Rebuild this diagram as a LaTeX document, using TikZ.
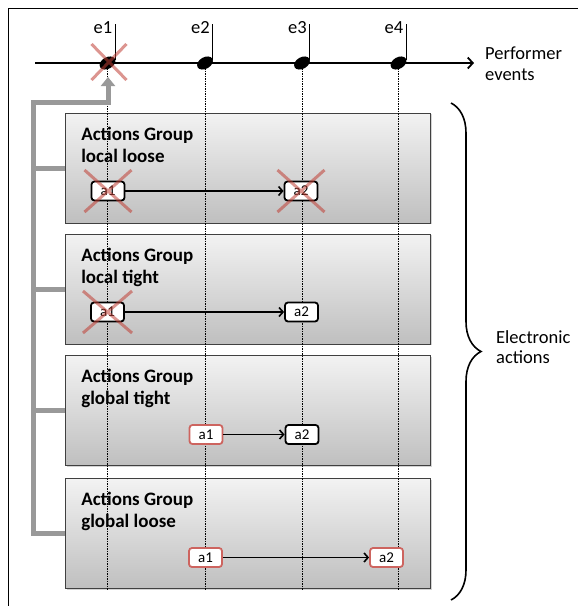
\documentclass[tikz,border=0pt]{standalone}
\usepackage{fontspec}
\setmainfont{Carlito}
\usetikzlibrary{arrows.meta,shapes.geometric,shapes.misc,decorations.pathreplacing,shadows}
\definecolor{busgray}{RGB}{153,153,153}
\definecolor{xred}{RGB}{192,62,52}
\definecolor{boxred}{RGB}{205,100,95}
\tikzset{
  grpbox/.style={draw=black!75, line width=0.9pt, top color=black!5, bottom color=black!25,
    minimum width=365pt, minimum height=110pt, inner sep=0pt,
    drop shadow={shadow xshift=1pt, shadow yshift=-1pt, opacity=0.35}},
  grptitle/.style={anchor=north west, inner sep=0pt, align=left, font=\fontsize{19}{22}\selectfont\bfseries},
  act/.style={draw, line width=1.8pt, rounded corners=3pt, fill=white, minimum width=33pt,
    minimum height=19pt, inner sep=0pt, font=\fontsize{15}{15}\selectfont},
  actred/.style={act, draw=boxred},
  notehead/.style={ellipse, fill=black, minimum width=17pt, minimum height=11.5pt, inner sep=0pt, rotate=30},
  xmark/.style={cross out, draw=xred, line width=3pt, opacity=0.55, inner sep=0pt},
  bus/.style={busgray, line width=5pt},
  guide/.style={dash pattern=on 1.5pt off 1pt, line width=0.7pt},
  lbl/.style={inner sep=0pt, font=\fontsize{18.5}{20.5}\selectfont}
}
\begin{document}
\begin{tikzpicture}[x=1pt,y=-1pt]
\useasboundingbox (0,0) rectangle (578,606);
\draw[line width=0.8pt] (8,606) -- (8,8) -- (578,8);
\node[grpbox] (g1) at (248,168) {};
\node[grpbox] (g2) at (248,289) {};
\node[grpbox] (g3) at (248,410.5) {};
\node[grpbox] (g4) at (248,533.5) {};
\node[grptitle] (t1) at ([xshift=16pt,yshift=-14pt]g1.north west) {Actions Group\\local loose};
\node[grptitle] (t2) at ([xshift=16pt,yshift=-14pt]g2.north west) {Actions Group\\local tight};
\node[grptitle] (t3) at ([xshift=16pt,yshift=-14pt]g3.north west) {Actions Group\\global tight};
\node[grptitle] (t4) at ([xshift=16pt,yshift=-14pt]g4.north west) {Actions Group\\global loose};
\coordinate (axL) at (35,63);
\coordinate (axR) at (474,63);
\draw[line width=1.8pt, -{Straight Barb[length=5pt,width=11pt]}] (axL) -- (axR);
\foreach \i/\x in {1/107.5,2/205,3/302,4/398.5}{
  \draw[guide] (\x,63) -- (\x,590);
  \node[notehead] (e\i) at (\x,63) {};
  \draw[line width=1.2pt] (\x+7.8,60) -- (\x+7.8,24);
  \node[lbl, anchor=base east] (l\i) at (\x+5,33) {e\i};
}
\node[lbl, anchor=west, align=left] (perf) at (485,63.5) {Performer\\events};
\coordinate (brT) at (451,103);
\coordinate (brB) at (451,600);
\draw[line width=1.6pt, decorate, decoration={brace, amplitude=30pt}] (brT) -- (brB);
\node[lbl, anchor=west, align=left] (elec) at (496,347) {Electronic\\actions};
\coordinate (busTop) at (33,102);
\coordinate (trig) at (108,77);
\draw[bus, -{Triangle[length=9pt,width=14pt]}] (g4.west) -| (busTop) -| (trig);
\foreach \g in {g1,g2,g3}
  \draw[bus] (\g.west) -- (\g.west -| busTop);
\node[act] (a11) at (108,191) {a1};
\node[act] (a12) at (301,191) {a2};
\node[act] (a21) at (107.5,312) {a1};
\node[act] (a22) at (301.5,312) {a2};
\node[actred] (a31) at (206,434.5) {a1};
\node[act] (a32) at (302,434.5) {a2};
\node[actred] (a41) at (205.5,557.5) {a1};
\node[actred] (a42) at (386.5,557.5) {a2};
\foreach \p in {1,...,4}
  \draw[line width=1.6pt, -{Straight Barb[length=4pt,width=9pt]}] (a\p1) -- (a\p2);
\node[xmark, minimum width=32pt, minimum height=33pt] (x0) at (109,62) {};
\node[xmark, minimum width=44pt, minimum height=39pt] (x11) at (a11) {};
\node[xmark, minimum width=44pt, minimum height=39pt] (x12) at (a12) {};
\node[xmark, minimum width=46pt, minimum height=39pt] (x21) at (a21) {};
\end{tikzpicture}
\end{document}
